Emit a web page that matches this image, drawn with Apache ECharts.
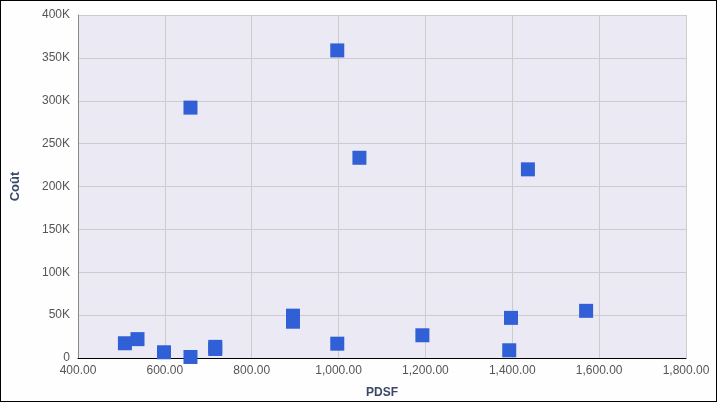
<!DOCTYPE html>
<html>
<head>
<meta charset="utf-8">
<script src="https://cdn.jsdelivr.net/npm/echarts@6/dist/echarts.min.js"></script>
<style>
  html, body { margin: 0; padding: 0; background: #fdfefd; }
  #main { width: 717px; height: 402px; box-sizing: border-box; border: 1px solid #000; }
</style>
</head>
<body>
<div id="main"></div>
<script>
// PDSF (x) and Coût (y)
const pdsf = [508, 537, 598, 659, 659, 716, 716, 895, 895, 997, 997, 1048, 1193, 1397, 1393, 1436, 1570]
const cout = [17200, 22000, 6700, 292000, 1200, 13000, 10500, 49400, 42300, 358700, 16700, 233500, 26500, 46800, 9000, 220000, 55000]

const xTicks = [400, 1800, 200]   // min, max, interval
const yTicks = [0, 400000, 50000]

const points = pdsf.map((x, i) => [x, cout[i]])
const fontFamily = '"Liberation Sans", Arial, sans-serif'

const myChart = echarts.init(document.getElementById('main'))
myChart.setOption({
    animation: false,
    backgroundColor: '#fdfefd',
    grid: {
        left: 77,
        right: 30,
        top: 14,
        bottom: 43,
        outerBoundsMode: 'none',
        containLabel: false,
        show: true,
        backgroundColor: '#ebe9f4',
        borderWidth: 0
    },
    xAxis: {
        type: 'value',
        min: xTicks[0],
        max: xTicks[1],
        interval: xTicks[2],
        name: 'PDSF',
        nameLocation: 'middle',
        nameGap: 29,
        nameTextStyle: { color: '#3a4766', fontWeight: 'bold', fontSize: 12, fontFamily: fontFamily },
        axisLine: { lineStyle: { color: '#000', width: 1 } },
        axisTick: { show: false },
        axisLabel: {
            color: '#555',
            fontSize: 12,
            fontFamily: fontFamily,
            margin: 7,
            formatter: v => v.toLocaleString('en-US', { minimumFractionDigits: 2, maximumFractionDigits: 2 })
        },
        splitLine: { lineStyle: { color: '#cccccc' } }
    },
    yAxis: {
        type: 'value',
        min: yTicks[0],
        max: yTicks[1],
        interval: yTicks[2],
        name: 'Coût',
        nameLocation: 'middle',
        nameGap: 56,
        nameTextStyle: { color: '#3a4766', fontWeight: 'bold', fontSize: 13, fontFamily: fontFamily },
        axisLine: { show: true, lineStyle: { color: '#888', width: 1 } },
        axisTick: { show: false },
        axisLabel: {
            color: '#555',
            fontSize: 12,
            fontFamily: fontFamily,
            margin: 8,
            formatter: v => v === 0 ? '0' : (v / 1000) + 'K'
        },
        splitLine: { lineStyle: { color: '#cccccc' } }
    },
    series: [
        {
            type: 'scatter',
            symbol: 'rect',
            symbolSize: 14,
            itemStyle: { color: '#315fd6', opacity: 1 },
            data: points
        }
    ]
})
</script>
</body>
</html>
